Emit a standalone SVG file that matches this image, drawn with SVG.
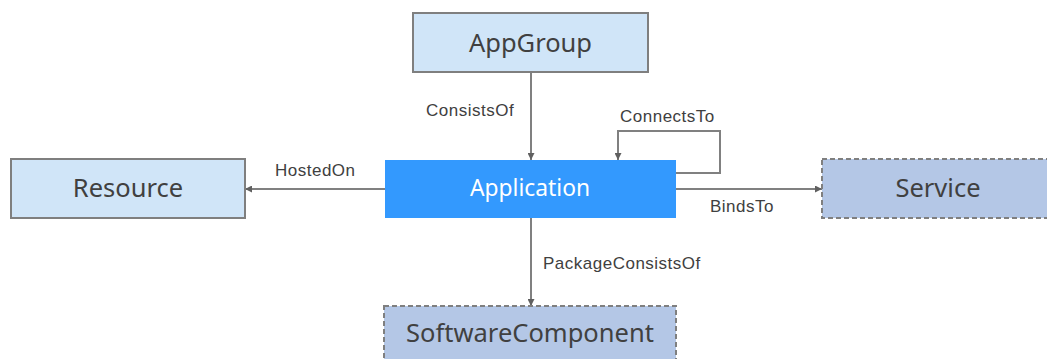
<svg xmlns="http://www.w3.org/2000/svg" width="1047" height="359" viewBox="0 0 1047 359">
<defs>
<style>
.node{stroke:#7f7f7f;stroke-width:2}
.light{fill:#d0e5f8}
.dash{fill:#b4c7e6;stroke-dasharray:5 3}
.ntext{font-family:"Noto Sans","Open Sans",sans-serif;font-size:25.5px;fill:#404040;text-anchor:middle;dominant-baseline:central}
.lbl{font-family:"Liberation Sans",Arial,sans-serif;font-size:17px;letter-spacing:0.5px;fill:#404040}
.edge{fill:none;stroke:#808080;stroke-width:2}
</style>
<marker id="arr" viewBox="0 0 10 10" refX="10" refY="5" markerWidth="7" markerHeight="7" markerUnits="userSpaceOnUse" orient="auto"><path d="M0,0 L10,5 L0,10 z" fill="#606060"/></marker>
</defs>
<rect width="1047" height="359" fill="#ffffff"/>
<g id="connectors">
<line class="edge" x1="531" y1="72" x2="531" y2="160" marker-end="url(#arr)"/>
<polyline class="edge" points="676,173 720,173 720,131 618,131 618,160" marker-end="url(#arr)"/>
<line class="edge" x1="385" y1="189" x2="245" y2="189" marker-end="url(#arr)"/>
<line class="edge" x1="676" y1="189" x2="822" y2="189" marker-end="url(#arr)"/>
<line class="edge" x1="531" y1="218" x2="531" y2="306" marker-end="url(#arr)"/>
<text class="lbl" x="426" y="116">ConsistsOf</text>
<text class="lbl" x="620" y="122">ConnectsTo</text>
<text class="lbl" x="275" y="176">HostedOn</text>
<text class="lbl" x="710" y="212">BindsTo</text>
<text class="lbl" x="543" y="269">PackageConsistsOf</text>
</g>
<g id="AppGroup">
<rect class="node light" x="413" y="13" width="235" height="59"/>
<text class="ntext" x="530.5" y="42">AppGroup</text>
</g>
<g id="Application">
<rect x="385" y="160" width="291" height="58" fill="#3399fe"/>
<text class="ntext" x="530" y="187" style="fill:#ffffff;font-size:22.8px">Application</text>
</g>
<g id="Resource">
<rect class="node light" x="11" y="159" width="234" height="59"/>
<text class="ntext" x="128" y="187">Resource</text>
</g>
<g id="Service">
<rect class="node dash" x="822" y="159" width="240" height="59"/>
<text class="ntext" x="938" y="187">Service</text>
</g>
<g id="SoftwareComponent">
<rect class="node dash" x="384" y="306" width="292" height="70"/>
<text class="ntext" x="530" y="332">SoftwareComponent</text>
</g>
</svg>
